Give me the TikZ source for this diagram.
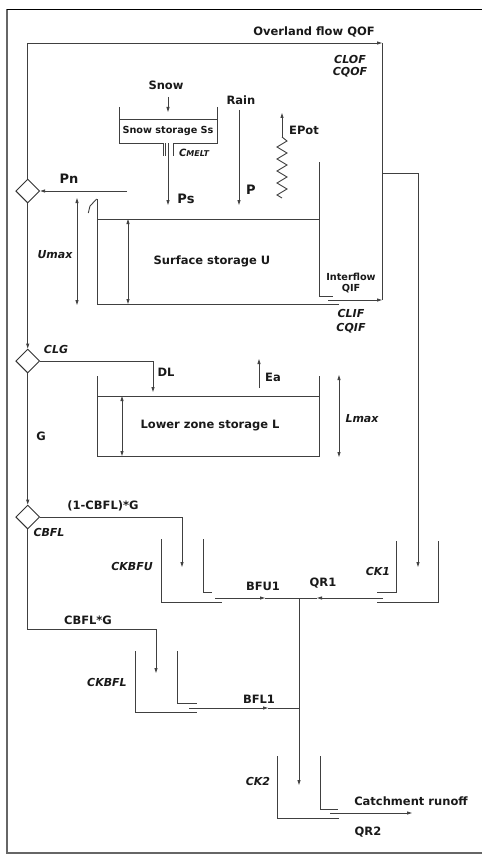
\documentclass[tikz,border=0pt]{standalone}
\usepackage{fontspec}
\setmainfont{DejaVu Sans}
\usetikzlibrary{arrows.meta,shapes.geometric}
\tikzset{
  ln/.style={draw=black!75, line width=0.9pt},
  arr/.style={ln, -{Triangle[length=5pt,width=3pt]}},
  darr/.style={ln, {Triangle[length=5pt,width=3pt]}-{Triangle[length=5pt,width=3pt]}},
  lab/.style={font=\bfseries\fontsize{11.5}{13}\selectfont, inner sep=0pt, text=black!90},
  slab/.style={font=\bfseries\fontsize{9.7}{11}\selectfont, inner sep=0pt, text=black!90},
  ilab/.style={font=\bfseries\itshape\fontsize{11}{13}\selectfont, inner sep=0pt, text=black!90},
  blab/.style={font=\bfseries\fontsize{13}{15}\selectfont, inner sep=0pt, text=black!90},
  dia/.style={diamond, draw=black!80, line width=0.9pt, minimum size=24pt, inner sep=0pt, fill=white},
}
\begin{document}
\begin{tikzpicture}[x=1pt,y=-1pt]
\useasboundingbox (0,0) rectangle (483,856);
% frame
\draw[black!60, line width=1.6pt] (482,853) -- (7,853) -- (7,9);
\draw[black, line width=0.8pt] (7,9) -- (482,9);

% diamonds
\node[dia] (dPn) at (27.7,191) {};
\node[dia] (dCLG) at (27.7,361) {};
\node[dia] (dCBFL) at (27.7,517) {};

% key coordinates
\coordinate (ofc) at (382,43);
\coordinate (ifc) at (382,300);
\coordinate (brk) at (382,173);
\coordinate (ck1top) at (418,173);
\coordinate (ck1in) at (418,567);
\coordinate (pnstart) at (127,191);
\coordinate (snowA) at (168,97);
\coordinate (snowB) at (168,112);
\coordinate (psA) at (168,143);
\coordinate (psB) at (168,205);
\coordinate (rainA) at (239,110);
\coordinate (rainB) at (239,205);
\coordinate (epA) at (282,137);
\coordinate (epB) at (282,113);
\coordinate (ifA) at (328,300);
\coordinate (dlC) at (153,361);
\coordinate (dlB) at (153,392);
\coordinate (eaA) at (259,388);
\coordinate (eaB) at (259,359);
\coordinate (gC) at (182,517);
\coordinate (gB) at (182,567);
\coordinate (cbC1) at (27.7,629);
\coordinate (cbC2) at (156,629);
\coordinate (cbB) at (156,673);
\coordinate (J) at (299,598);
\coordinate (bfuA) at (215,598);
\coordinate (bfuM) at (265,598);
\coordinate (qrA) at (383,598);
\coordinate (qrM) at (317,598);
\coordinate (bflA) at (189,708);
\coordinate (bflM) at (268,708);
\coordinate (bflJ) at (299,708);
\coordinate (ck2in) at (299,785);
\coordinate (roA) at (330,813);
\coordinate (roB) at (412,813);

% overland flow
\draw[arr] (dPn.north) |- (ofc);
\draw[ln] (ofc) -- (ifc);
\draw[arr] (brk) -- (ck1top) -- (ck1in);
\draw[arr] (pnstart) -- (dPn.east);

% snow storage tank
\draw[ln] (119,107) -- (119,143) -- (163,143) -- (163,156);
\draw[ln] (165.5,143) -- (165.5,156);
\draw[ln] (217,107) -- (217,143) -- (173,143) -- (173,156);
\draw[ln] (119,119) -- (217,119);
\draw[arr] (snowA) -- (snowB);
\draw[arr] (psA) -- (psB);
\draw[arr] (rainA) -- (rainB);

% EPot zigzag
\draw[ln] (282,198) -- (277,195) -- (287,189) -- (277,183) -- (287,177) -- (277,171) -- (287,165) -- (277,159) -- (287,153) -- (277,147) -- (287,141) -- (epA);
\draw[arr] (epA) -- (epB);

% surface storage tank
\draw[ln] (88.3,213) -- (90,206) -- (96.7,199);
\draw[ln] (97,199) -- (97,304) -- (339,304);
\draw[ln] (97,219) -- (319,219);
\draw[ln] (319,162) -- (319,296) -- (333,296);
\draw[arr] (ifA) -- (ifc);
\draw[darr] (77,198) -- (77,305);
\draw[darr] (128,219) -- (128,304);

% left chain
\draw[arr] (dPn.south) -- (dCLG.north);
\draw[arr] (dCLG.south) -- (dCBFL.north);
\draw[arr] (dCLG.east) -- (dlC) -- (dlB);

% lower zone tank
\draw[ln] (97,376) -- (97,456) -- (319,456) -- (319,376);
\draw[ln] (97,396) -- (319,396);
\draw[darr] (122,396) -- (122,456);
\draw[darr] (339,375) -- (339,457);
\draw[arr] (eaA) -- (eaB);

% base flow routing
\draw[arr] (dCBFL.east) -- (gC) -- (gB);
\draw[arr] (dCBFL.south) -- (cbC1) -- (cbC2) -- (cbB);

% CKBFU tank
\draw[ln] (161,539) -- (161,602) -- (222,602);
\draw[ln] (203,539) -- (203,592) -- (212,592);
\draw[arr] (bfuA) -- (bfuM);
\draw[ln] (bfuM) -- (J);
% CK1 tank
\draw[ln] (438,541) -- (438,602) -- (377,602);
\draw[ln] (396,541) -- (396,592) -- (377,592);
\draw[arr] (qrA) -- (qrM);
\draw[ln] (qrM) -- (J);
% CKBFL tank
\draw[ln] (135,651) -- (135,712) -- (197,712);
\draw[ln] (177,651) -- (177,703) -- (197,703);
\draw[arr] (bflA) -- (bflM);
\draw[ln] (bflM) -- (bflJ);
% junction to CK2
\draw[arr] (J) -- (ck2in);
% CK2 tank
\draw[ln] (277,756) -- (277,818) -- (339,818);
\draw[ln] (320,756) -- (320,809) -- (338,809);
\draw[arr] (roA) -- (roB);

% labels
\node[lab] (tOF) at (314,32) {Overland flow QOF};
\node[ilab] (tCLOF) at (350,59) {CLOF};
\node[ilab] (tCQOF) at (350,72) {CQOF};
\node[lab] (tSnow) at (166,85) {Snow};
\node[slab] (tSS) at (168,131) {Snow storage Ss};
\node[lab] (tRain) at (241,100) {Rain};
\node[lab] (tEPot) at (304,130) {EPot};
\node[font=\bfseries\itshape\fontsize{10}{12}\selectfont, inner sep=0pt, text=black!90] (tCM) at (194,153) {C{\fontsize{8}{10}\selectfont MELT}};
\node[blab] (tPn) at (69,179) {Pn};
\node[blab] (tPs) at (186,199) {Ps};
\node[blab] (tP) at (251,190) {P};
\node[ilab] (tUmax) at (55,255) {Umax};
\node[lab] (tSU) at (212,261) {Surface storage U};
\node[slab] (tIF) at (351,277) {Interflow};
\node[slab] (tQIF) at (351,289) {QIF};
\node[ilab] (tCLIF) at (351,313) {CLIF};
\node[ilab] (tCQIF) at (351,328) {CQIF};
\node[ilab] (tCLG) at (56,349) {CLG};
\node[lab] (tDL) at (166,372) {DL};
\node[lab] (tEa) at (273,377) {Ea};
\node[ilab] (tLmax) at (362,419) {Lmax};
\node[lab] (tLZ) at (210,426) {Lower zone storage L};
\node[lab] (tG) at (41,436) {G};
\node[lab] (tG1) at (103,506) {(1-CBFL)*G};
\node[ilab] (tCBFL) at (49,532) {CBFL};
\node[ilab] (tCKBFU) at (132,566) {CKBFU};
\node[ilab] (tCK1) at (378,571) {CK1};
\node[lab] (tBFU1) at (263,586) {BFU1};
\node[lab] (tQR1) at (323,583) {QR1};
\node[lab] (tCBG) at (88,620) {CBFL*G};
\node[ilab] (tCKBFL) at (107,682) {CKBFL};
\node[lab] (tBFL1) at (259,699) {BFL1};
\node[ilab] (tCK2) at (258,781) {CK2};
\node[lab] (tCR) at (411,801) {Catchment runoff};
\node[lab] (tQR2) at (368,832) {QR2};
\end{tikzpicture}
\end{document}
